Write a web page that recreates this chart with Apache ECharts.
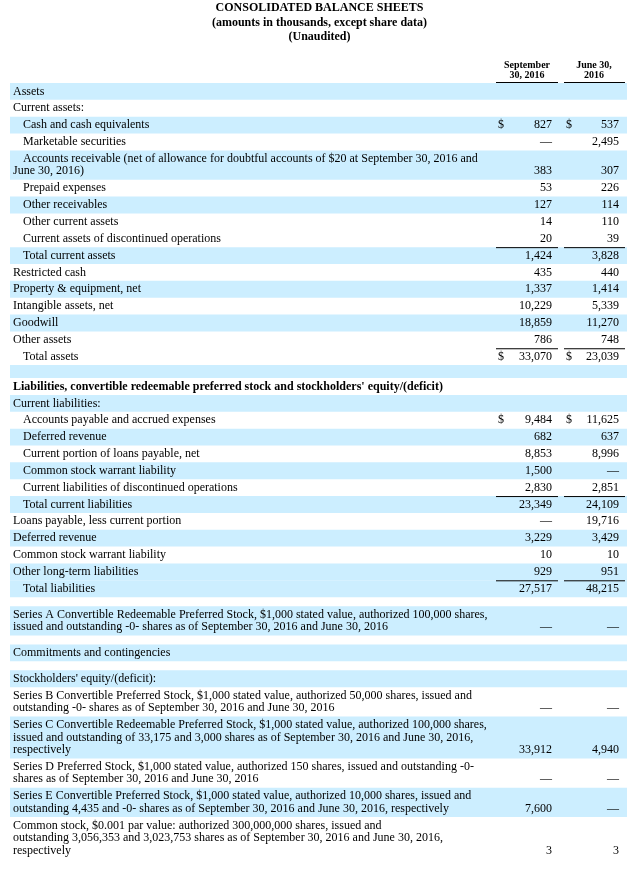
<!DOCTYPE html>
<html>
<head>
<meta charset="utf-8">
<title>Consolidated Balance Sheets</title>
<script src="https://cdn.jsdelivr.net/npm/echarts@6/dist/echarts.min.js"></script>
<style>
  html, body { margin: 0; padding: 0; background: #fff; }
  #chart { width: 639px; height: 869px; }
</style>
</head>
<body>
<div id="chart"></div>
<script>
  // column headings
  const periods = ['September\n30, 2016', 'June 30,\n2016'];

  // row captions ('' = spacer row)
  const rowLabels = [
    'Assets',
    'Current assets:',
    'Cash and cash equivalents',
    'Marketable securities',
    'Accounts receivable (net of allowance for doubtful accounts of $20 at September 30, 2016 and\nJune 30, 2016)',
    'Prepaid expenses',
    'Other receivables',
    'Other current assets',
    'Current assets of discontinued operations',
    'Total current assets',
    'Restricted cash',
    'Property & equipment, net',
    'Intangible assets, net',
    'Goodwill',
    'Other assets',
    'Total assets',
    '',
    "Liabilities, convertible redeemable preferred stock and stockholders' equity/(deficit)",
    'Current liabilities:',
    'Accounts payable and accrued expenses',
    'Deferred revenue',
    'Current portion of loans payable, net',
    'Common stock warrant liability',
    'Current liabilities of discontinued operations',
    'Total current liabilities',
    'Loans payable, less current portion',
    'Deferred revenue',
    'Common stock warrant liability',
    'Other long-term liabilities',
    'Total liabilities',
    '',
    'Series A Convertible Redeemable Preferred Stock, $1,000 stated value, authorized 100,000 shares,\nissued and outstanding -0- shares as of September 30, 2016 and June 30, 2016',
    '',
    'Commitments and contingencies',
    '',
    "Stockholders' equity/(deficit):",
    'Series B Convertible Preferred Stock, $1,000 stated value, authorized 50,000 shares, issued and\noutstanding -0- shares as of September 30, 2016 and June 30, 2016',
    'Series C Convertible Redeemable Preferred Stock, $1,000 stated value, authorized 100,000 shares,\nissued and outstanding of 33,175 and 3,000 shares as of September 30, 2016 and June 30, 2016,\nrespectively',
    'Series D Preferred Stock, $1,000 stated value, authorized 150 shares, issued and outstanding -0-\nshares as of September 30, 2016 and June 30, 2016',
    'Series E Convertible Preferred Stock, $1,000 stated value, authorized 10,000 shares, issued and\noutstanding 4,435 and -0- shares as of September 30, 2016 and June 30, 2016, respectively',
    'Common stock, $0.001 par value: authorized 300,000,000 shares, issued and\noutstanding 3,056,353 and 3,023,753 shares as of September 30, 2016 and June 30, 2016,\nrespectively'
  ];

  // amounts in thousands ('' = empty cell, null = dash)
  const septValues = [
    '', '', 827, null, 383, 53, 127, 14, 20, 1424, 435, 1337, 10229, 18859, 786, 33070,
    '', '', '', 9484, 682, 8853, 1500, 2830, 23349, null, 3229, 10, 929, 27517,
    '', null, '', '', '', '', null, 33912, null, 7600, 3
  ];
  const juneValues = [
    '', '', 537, 2495, 307, 226, 114, 110, 39, 3828, 440, 1414, 5339, 11270, 748, 23039,
    '', '', '', 11625, 637, 8996, null, 2851, 24109, 19716, 3429, 10, 951, 48215,
    '', null, '', '', '', '', null, 4940, null, null, 3
  ];

  const indentRows = [2, 3, 4, 5, 6, 7, 8, 9, 15, 19, 20, 21, 22, 23, 24, 29];
  const shadedRows = [0, 2, 4, 6, 9, 11, 13, 16, 18, 20, 22, 24, 26, 28, 29, 31, 33, 35, 37, 39];
  const dollarRows = [2, 15, 19];
  const totalRows = [9, 15, 24, 29];
  const grandTotalRows = [15];
  const boldRows = [17];

  // layout
  const FONT = '"Liberation Serif", "Times New Roman", serif';
  const SHADE = '#cceeff';
  const TOP = 83, ROW_H = 16.85, LINE_H = 12.5, BLANK_H = 13, GAP_H = 9;
  const BAND_L = 10, BAND_R = 627, LABEL_X = 13, INDENT_X = 23;
  const cols = [
    { dollar: 498, right: 552, ruleL: 496, ruleR: 558, center: 527 },
    { dollar: 566, right: 619, ruleL: 564, ruleR: 625, center: 594 }
  ];

  const rowTops = [], rowHeights = [];
  let y = TOP;
  rowLabels.forEach((label, i) => {
    let h;
    if (label === '') h = shadedRows.includes(i) ? BLANK_H : GAP_H;
    else h = ROW_H + (label.split('\n').length - 1) * LINE_H;
    rowTops.push(y);
    rowHeights.push(h);
    y += h;
  });

  function fmt(v) {
    if (v === '') return '';
    if (v === null) return '\u2014';
    return v.toLocaleString('en-US');
  }

  function txt(p, text, align, bold, size) {
    return {
      type: 'text',
      style: {
        text: text, x: p[0], y: p[1],
        font: (bold ? 'bold ' : '') + (size || 12) + 'px ' + FONT,
        fill: '#000', textAlign: align, textVerticalAlign: 'middle'
      }
    };
  }

  function line(api, x1, x2, yy) {
    const a = api.coord([x1, yy]), b = api.coord([x2, yy]);
    return { type: 'line', shape: { x1: a[0], y1: a[1], x2: b[0], y2: b[1] }, style: { stroke: '#000', lineWidth: 1 } };
  }

  function renderRow(params, api) {
    const i = params.dataIndex;
    const top = rowTops[i], h = rowHeights[i];
    const children = [];
    if (shadedRows.includes(i)) {
      const a = api.coord([BAND_L, top]), b = api.coord([BAND_R, top + h]);
      children.push({ type: 'rect', shape: { x: a[0], y: a[1], width: b[0] - a[0], height: b[1] - a[1] }, style: { fill: SHADE } });
    }
    const lines = rowLabels[i] ? rowLabels[i].split('\n') : [];
    lines.forEach((ln, k) => {
      const x = (k === 0 && indentRows.includes(i)) ? INDENT_X : LABEL_X;
      children.push(txt(api.coord([x, top + ROW_H / 2 + k * LINE_H]), ln, 'left', boldRows.includes(i)));
    });
    const lastY = top + ROW_H / 2 + Math.max(lines.length - 1, 0) * LINE_H;
    [septValues[i], juneValues[i]].forEach((v, c) => {
      const col = cols[c];
      if (v !== '') children.push(txt(api.coord([col.right, lastY]), fmt(v), 'right'));
      if (dollarRows.includes(i)) children.push(txt(api.coord([col.dollar, lastY]), '$', 'left'));
      if (totalRows.includes(i)) children.push(line(api, col.ruleL, col.ruleR, top + 0.5));
      if (grandTotalRows.includes(i)) {
        children.push(line(api, col.ruleL, col.ruleR, top + h + 1.5));
        children.push(line(api, col.ruleL, col.ruleR, top + h + 4));
      }
    });
    return { type: 'group', children: children };
  }

  function renderHeader(params, api) {
    const col = cols[params.dataIndex];
    const parts = periods[params.dataIndex].split('\n');
    const children = parts.map((ln, k) => txt(api.coord([col.center, 65 + k * 10]), ln, 'center', true, 10));
    children.push(line(api, col.ruleL, col.ruleR, TOP - 0.5));
    return { type: 'group', children: children };
  }

  const chart = echarts.init(document.getElementById('chart'), null, { renderer: 'canvas' });
  chart.setOption({
    backgroundColor: '#fff',
    animation: false,
    title: {
      text: 'CONSOLIDATED BALANCE SHEETS',
      subtext: '(amounts in thousands, except share data)\n(Unaudited)',
      left: 'center', top: 1, padding: 0, itemGap: 1,
      textStyle: { fontFamily: FONT, fontSize: 12, fontWeight: 'bold', color: '#000', lineHeight: 14 },
      subtextStyle: { fontFamily: FONT, fontSize: 12, fontWeight: 'bold', color: '#000', lineHeight: 14 }
    },
    grid: { left: 0, right: 0, top: 0, bottom: 0 },
    xAxis: { type: 'value', min: 0, max: 639, show: false },
    yAxis: { type: 'value', min: 0, max: 869, inverse: true, show: false },
    series: [
      {
        type: 'custom',
        renderItem: renderRow,
        data: rowLabels.map((l, i) => [i]),
        silent: true
      },
      {
        type: 'custom',
        renderItem: renderHeader,
        data: periods.map((p, i) => [i]),
        silent: true
      }
    ]
  });
</script>
</body>
</html>
